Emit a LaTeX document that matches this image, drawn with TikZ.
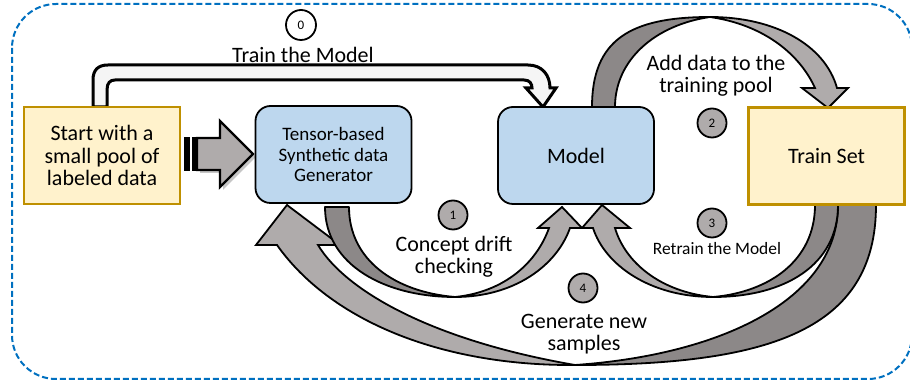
\documentclass[tikz,border=0pt]{standalone}
\usepackage{fontspec}
\setmainfont{Carlito}
\usetikzlibrary{shadows}
\definecolor{boxyellow}{HTML}{FFF2CC}
\definecolor{boxgold}{HTML}{BF9000}
\definecolor{boxblue}{HTML}{BDD7EE}
\definecolor{arrowlight}{HTML}{AFABAB}
\definecolor{arrowdark}{HTML}{8C8888}
\definecolor{frameblue}{HTML}{0070C0}

\begin{document}
\begin{tikzpicture}[x=0.5pt,y=-0.5pt,
  databox/.style={draw=boxgold,fill=boxyellow,line width=1.2pt,minimum width=78pt,minimum height=48.5pt,align=center,font=\fontsize{11}{11.2}\selectfont},
  procbox/.style={draw=black,fill=boxblue,line width=0.9pt,rounded corners=7.5pt,minimum width=78pt,minimum height=48.5pt,align=center},
  stepnum/.style={circle,draw=black,fill=arrowlight,line width=0.9pt,minimum size=14.5pt,inner sep=0pt,font=\fontsize{6.5}{7}\selectfont},
  steptext/.style={align=center,inner sep=0pt,font=\fontsize{11}{11}\selectfont},
  tailpart/.style={draw=black,fill=arrowdark,line width=0.9pt,line join=round},
  headpart/.style={draw=black,fill=arrowlight,line width=0.9pt,line join=miter}]

\useasboundingbox (0,0) rectangle (910,384);

% frame
\draw[frameblue,line width=1pt,dash pattern=on 3pt off 1.5pt,rounded corners=22pt] (12,4) rectangle (912,379);

% 4: generate new samples
\draw[tailpart] (876,205) .. controls (876,330) and (770,365) .. (575,365) .. controls (720,355) and (838,300) .. (838,205) -- cycle;
\draw[headpart] (575,365) .. controls (440,366) and (330,320) .. (277,245) -- (256,245) -- (287,205) -- (340,245) -- (318,245) .. controls (345,290) and (430,340) .. (575,365) -- cycle;

% 1: concept drift checking
\draw[tailpart] (325,207) .. controls (325,265) and (385,297) .. (455,297) .. controls (395,292) and (349,260) .. (349,207) -- cycle;
\draw[headpart] (455,297) .. controls (515,297) and (557,265) .. (570,228) -- (582,228) -- (562,207) -- (538,228) -- (549,228) .. controls (537,262) and (505,292) .. (455,297) -- cycle;

% 3: retrain the model
\draw[tailpart] (838,205) .. controls (838,265) and (785,297) .. (713,297) .. controls (770,292) and (815,260) .. (815,205) -- cycle;
\draw[headpart] (713,297) .. controls (650,297) and (605,265) .. (593,228) -- (582,228) -- (602,205) -- (630,228) -- (615,228) .. controls (625,262) and (660,292) .. (713,297) -- cycle;

% 2: add data to the training pool
\draw[tailpart] (592,107) .. controls (592,40) and (630,17) .. (710,17) .. controls (655,25) and (615,60) .. (615,107) -- cycle;
\draw[headpart] (710,17) .. controls (775,17) and (825,45) .. (837,88) -- (848,88) -- (828,108) -- (802,88) -- (815,88) .. controls (800,55) and (765,25) .. (710,17) -- cycle;

% 0: train the model
\draw[line width=1.5pt,fill=gray!8,line join=miter] (93,107) -- (93,80) .. controls (93,70) and (98,65) .. (108,65) -- (528,65) .. controls (542,65) and (550,75) .. (550,88) -- (556,88) -- (543,107) -- (526,88) -- (532,88) .. controls (532,84) and (530,80) .. (524,80) -- (115,80) .. controls (110,80) and (107,83) .. (107,90) -- (107,107) -- cycle;

% start -> generator
\draw[headpart,line width=1.2pt,drop shadow={shadow xshift=1.5pt,shadow yshift=-1.5pt,opacity=.45}] (197,138) -- (220,138) -- (220,121) -- (253,154) -- (220,187) -- (220,170) -- (197,170) -- cycle;
\fill[black] (184,137) rectangle (190,171);
\fill[black] (192,137) rectangle (197,171);

\node[databox] (start) at (102,155.5) {Start with a\\small pool of\\labeled data};
\node[procbox,font=\fontsize{9.5}{10.3}\selectfont] (gen) at (333.5,154.5) {Tensor-based\\Synthetic data\\Generator};
\node[procbox,font=\fontsize{11}{12}\selectfont] (model) at (576,155.5) {Model};
\node[databox] (trainset) at (826.5,156) {Train Set};

\node[stepnum,fill=white,minimum size=15pt] (s0) at (301,25) {0};
\node[stepnum] (s1) at (453,215) {1};
\node[stepnum] (s2) at (712,123) {2};
\node[stepnum] (s3) at (712,223) {3};
\node[stepnum] (s4) at (583,288) {4};

\node[steptext] (l0) at (303,55) {Train the Model};
\node[steptext] (l1) at (454,256.5) {Concept drift\\checking};
\node[steptext] (l2) at (716,76) {Add data to the\\training pool};
\node[steptext,font=\fontsize{8.7}{9}\selectfont] (l3) at (717,249) {Retrain the Model};
\node[steptext] (l4) at (584,334.5) {Generate new\\samples};
\end{tikzpicture}
\end{document}
